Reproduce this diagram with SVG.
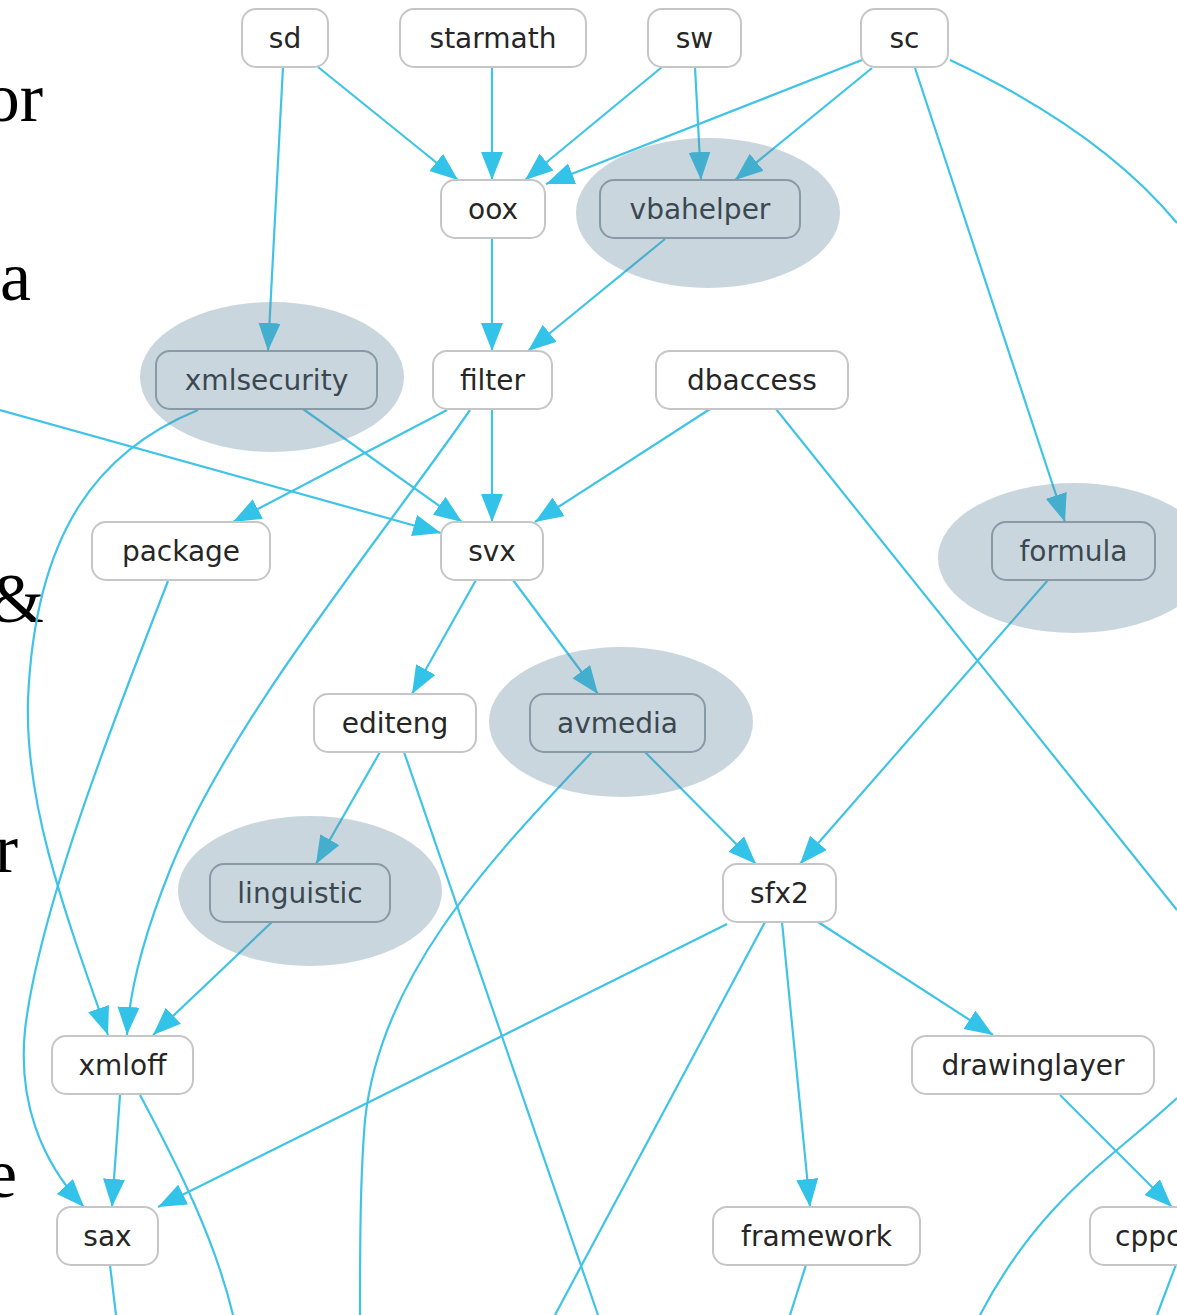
<svg xmlns="http://www.w3.org/2000/svg" width="1177" height="1315" viewBox="0 0 1177 1315">
<style>
.bg{fill:#ffffff}
.n rect{fill:#ffffff;stroke:#c6c6c6;stroke-width:2}
.n.hl rect{stroke:#9aa3a8}
.n text{font-family:"DejaVu Sans",Verdana,sans-serif;font-size:28px;fill:#262626;text-anchor:middle}
.hlE{fill:#658aa1;fill-opacity:0.35}
.e path{fill:none;stroke:#3fc4e7;stroke-width:2.2}
.e path.a{marker-end:url(#arr)}
.side{font-family:"Liberation Serif","Times New Roman",serif;font-size:70px;fill:#000;text-anchor:end}
</style>
<defs>
<marker id="arr" markerUnits="userSpaceOnUse" markerWidth="30" markerHeight="24" refX="28" refY="11" orient="auto">
<path d="M0,0 L28,11 L0,22 z" fill="#33c2e8"/>
</marker>
</defs>
<rect class="bg" x="0" y="0" width="1177" height="1315"/>

<g id="side-text">
<text class="side" x="43" y="121">or</text>
<text class="side" x="31" y="300">a</text>
<text class="side" x="44" y="622">&amp;</text>
<text class="side" x="18" y="872">r</text>
<text class="side" x="17" y="1197">e</text>
</g>

<g id="connectors" class="e">
<path class="a" d="M318,67 L458,180"/>
<path class="a" d="M283,67 L268,351"/>
<path class="a" d="M492,67 L492,180"/>
<path class="a" d="M662,67 L525,180"/>
<path class="a" d="M695,67 L701,180"/>
<path class="a" d="M862,60 L546,184"/>
<path class="a" d="M872,68 L735,180"/>
<path class="a" d="M915,68 L1065,522"/>
<path d="M950,60 Q1100,130 1177,223"/>
<path class="a" d="M492,238 L492,351"/>
<path class="a" d="M665,239 L528,351"/>
<path class="a" d="M303,409 L462,522"/>
<path class="a" d="M198,410 C100,450 35,530 28,700 C25,800 60,900 108,1035"/>
<path class="a" d="M168,581 C130,680 40,900 25,1030 C18,1100 40,1160 84,1207"/>
<path class="a" d="M447,410 L233,522"/>
<path class="a" d="M492,409 L492,522"/>
<path class="a" d="M470,410 C380,540 230,720 170,870 C150,920 130,980 127,1035"/>
<path class="a" d="M0,410 L441,533"/>
<path class="a" d="M710,409 L535,522"/>
<path d="M776,409 L1177,910"/>
<path class="a" d="M1048,580 L800,864"/>
<path class="a" d="M476,580 L412,694"/>
<path class="a" d="M513,580 L598,694"/>
<path class="a" d="M380,752 L316,864"/>
<path d="M404,752 L598,1315"/>
<path class="a" d="M645,752 L756,864"/>
<path d="M592,752 C480,870 380,980 365,1120 C360,1180 360,1250 360,1315"/>
<path class="a" d="M272,922 L153,1035"/>
<path class="a" d="M727,924 L158,1207"/>
<path d="M765,922 L555,1315"/>
<path class="a" d="M782,922 L810,1207"/>
<path class="a" d="M818,922 L993,1035"/>
<path class="a" d="M1060,1095 L1172,1207"/>
<path d="M1177,1098 C1110,1160 1040,1200 980,1315"/>
<path class="a" d="M120,1095 L112,1207"/>
<path d="M140,1095 C180,1170 215,1240 233,1315"/>
<path d="M110,1265 L116,1315"/>
<path d="M806,1265 L790,1315"/>
<path d="M1177,1262 L1157,1315"/>
</g>

<g id="node-sd" class="n"><rect x="242" y="9" width="86" height="58" rx="14"/><text x="285" y="48">sd</text></g>
<g id="node-starmath" class="n"><rect x="400" y="9" width="186" height="58" rx="14"/><text x="493" y="48">starmath</text></g>
<g id="node-sw" class="n"><rect x="648" y="9" width="93" height="58" rx="14"/><text x="694.5" y="48">sw</text></g>
<g id="node-sc" class="n"><rect x="861" y="9" width="87" height="58" rx="14"/><text x="904.5" y="48">sc</text></g>
<g id="node-oox" class="n"><rect x="441" y="180" width="104" height="58" rx="14"/><text x="493" y="219">oox</text></g>
<g id="node-vbahelper" class="n hl"><rect x="600" y="180" width="200" height="58" rx="14"/><text x="700" y="219">vbahelper</text><ellipse class="hlE" cx="708" cy="213" rx="132" ry="75"/></g>
<g id="node-xmlsecurity" class="n hl"><rect x="156" y="351" width="221" height="58" rx="14"/><text x="266.5" y="390">xmlsecurity</text><ellipse class="hlE" cx="272" cy="377" rx="132" ry="75"/></g>
<g id="node-filter" class="n"><rect x="433" y="351" width="119" height="58" rx="14"/><text x="492.5" y="390">filter</text></g>
<g id="node-dbaccess" class="n"><rect x="656" y="351" width="192" height="58" rx="14"/><text x="752" y="390">dbaccess</text></g>
<g id="node-package" class="n"><rect x="92" y="522" width="178" height="58" rx="14"/><text x="181" y="561">package</text></g>
<g id="node-svx" class="n"><rect x="441" y="522" width="102" height="58" rx="14"/><text x="492" y="561">svx</text></g>
<g id="node-formula" class="n hl"><rect x="992" y="522" width="163" height="58" rx="14"/><text x="1073.5" y="561">formula</text><ellipse class="hlE" cx="1074" cy="558" rx="136" ry="75"/></g>
<g id="node-editeng" class="n"><rect x="314" y="694" width="162" height="58" rx="14"/><text x="395" y="733">editeng</text></g>
<g id="node-avmedia" class="n hl"><rect x="530" y="694" width="175" height="58" rx="14"/><text x="617.5" y="733">avmedia</text><ellipse class="hlE" cx="621" cy="722" rx="132" ry="75"/></g>
<g id="node-linguistic" class="n hl"><rect x="210" y="864" width="180" height="58" rx="14"/><text x="300" y="903">linguistic</text><ellipse class="hlE" cx="310" cy="891" rx="132" ry="75"/></g>
<g id="node-sfx2" class="n"><rect x="723" y="864" width="113" height="58" rx="14"/><text x="779.5" y="903">sfx2</text></g>
<g id="node-xmloff" class="n"><rect x="52" y="1036" width="141" height="58" rx="14"/><text x="122.5" y="1075">xmloff</text></g>
<g id="node-drawinglayer" class="n"><rect x="912" y="1036" width="242" height="58" rx="14"/><text x="1033" y="1075">drawinglayer</text></g>
<g id="node-sax" class="n"><rect x="57" y="1207" width="101" height="58" rx="14"/><text x="107.5" y="1246">sax</text></g>
<g id="node-framework" class="n"><rect x="713" y="1207" width="207" height="58" rx="14"/><text x="816.5" y="1246">framework</text></g>
<g id="node-cppc" class="n"><rect x="1090" y="1207" width="120" height="58" rx="14"/><text x="1115" y="1246" style="text-anchor:start">cppc</text></g>
</svg>
